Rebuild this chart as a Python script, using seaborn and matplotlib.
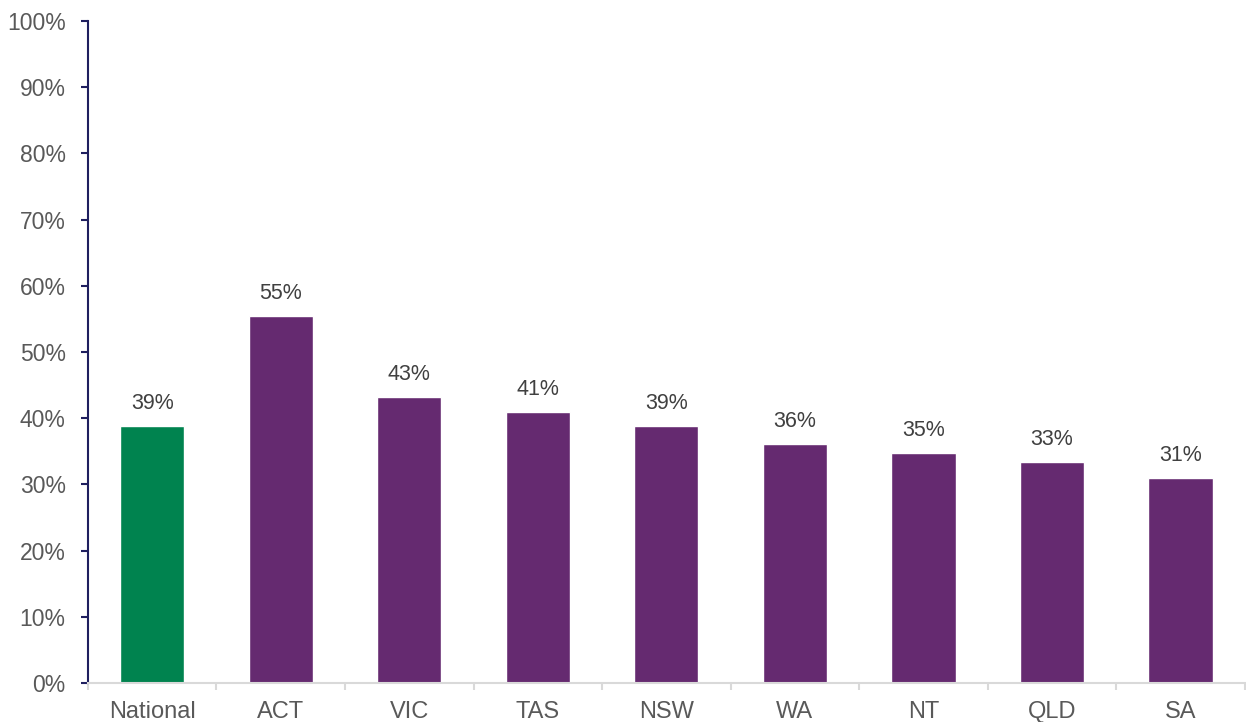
import matplotlib
matplotlib.use("Agg")
import matplotlib.pyplot as plt
import seaborn as sns
import pandas as pd
import numpy as np
from matplotlib.ticker import FixedLocator, PercentFormatter

categories = ["National", "ACT", "VIC", "TAS", "NSW", "WA", "NT", "QLD", "SA"]
values = [38.8, 55.4, 43.2, 40.9, 38.8, 36.1, 34.7, 33.4, 31.0]
labels = ["39%", "55%", "43%", "41%", "39%", "36%", "35%", "33%", "31%"]
colors = ["#00834F"] + ["#652A70"] * 8

sns.set_theme(style="white")
plt.rcParams["font.family"] = ["Liberation Sans", "DejaVu Sans"]

df = pd.DataFrame({"cat": categories, "val": values})

fig = plt.figure(figsize=(12.46, 7.22), dpi=100)
ax = fig.add_axes([0.0706, 0.054, 0.9284, 0.917])
sns.barplot(data=df, x="cat", y="val", hue="cat", palette=colors, legend=False,
            width=0.5, ax=ax, saturation=1)

for p, lab in zip(ax.patches, labels):
    ax.text(p.get_x() + p.get_width() / 2, p.get_height() + 1.8, lab,
            ha="center", va="bottom", fontsize=15.5, color="#404040")

ax.set_ylim(0, 100)
ax.set_xlim(-0.5, len(categories) - 0.5)
ax.set_yticks(np.arange(0, 101, 10))
ax.yaxis.set_major_formatter(PercentFormatter(decimals=0))
ax.set_xlabel("")
ax.set_ylabel("")

ax.xaxis.set_minor_locator(FixedLocator(np.arange(-0.5, len(categories) - 0.4, 1)))
ax.tick_params(axis="x", which="major", length=0, labelsize=17, labelcolor="#595959", pad=13)
ax.tick_params(axis="x", which="minor", length=5, width=1.5, color="#D9D9D9", direction="out", bottom=True)
ax.tick_params(axis="y", which="major", length=5, width=1.5, color="#1F1F5F", direction="out",
               left=True, labelsize=16.5, labelcolor="#595959", pad=11)

for s in ["top", "right"]:
    ax.spines[s].set_visible(False)
ax.spines["left"].set_color("#1F1F5F")
ax.spines["left"].set_linewidth(1.5)
ax.spines["bottom"].set_color("#D9D9D9")
ax.spines["bottom"].set_linewidth(1.5)
ax.grid(False)

fig.savefig("out.png", dpi=100, facecolor="white")
